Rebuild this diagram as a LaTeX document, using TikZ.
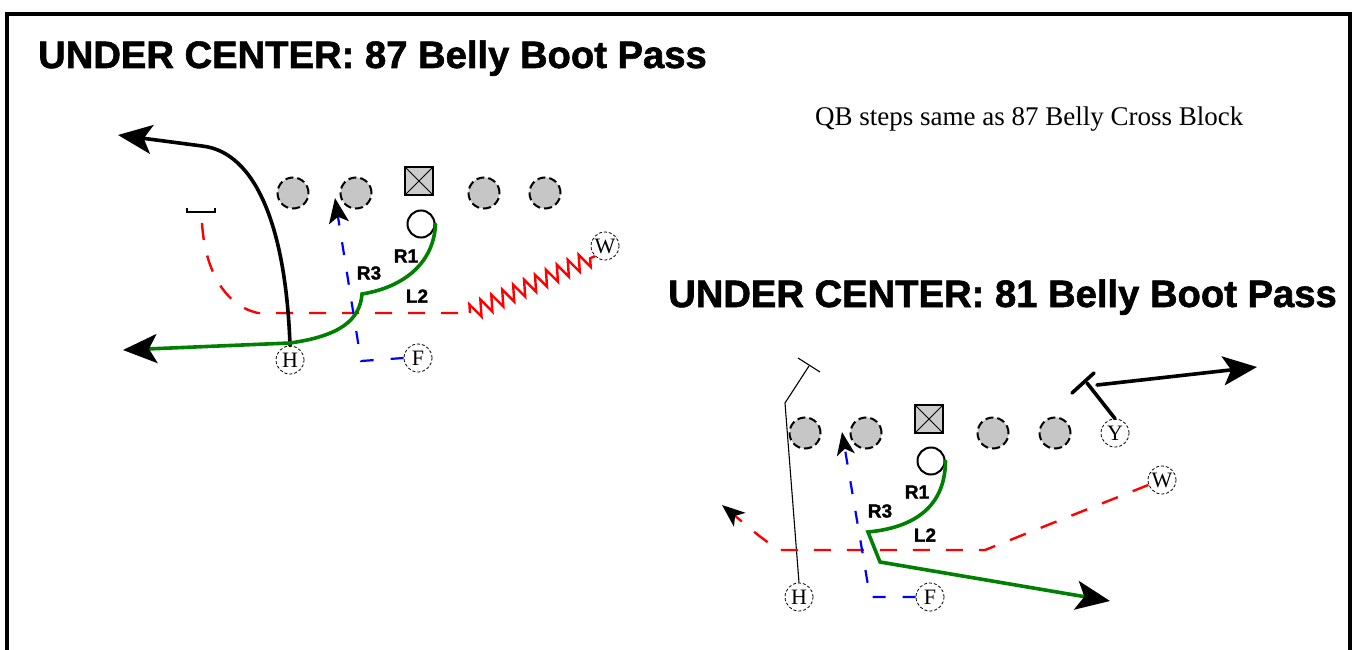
\documentclass[tikz,border=0pt]{standalone}
\usepackage{fontspec}
\setmainfont{Liberation Serif}
\newfontfamily\headfont{Liberation Sans}[BoldFeatures={FakeBold=1.5}]
\usepackage{tikz}
\usetikzlibrary{arrows.meta}
\usetikzlibrary{decorations.pathmorphing}

\begin{document}
\begin{tikzpicture}[
    x=1pt, y=-1pt,
    lineman/.style={circle, draw, fill=gray!45, line width=2pt, dash pattern=on 8pt off 4pt, minimum size=31pt, inner sep=0pt},
    snapbox/.style={rectangle, draw, fill=gray!40, line width=2.4pt, minimum size=28pt, inner sep=0pt,
      path picture={\draw[line width=0.8pt] (path picture bounding box.north west) -- (path picture bounding box.south east)
        (path picture bounding box.south west) -- (path picture bounding box.north east);}},
    qb/.style={circle, draw, fill=white, line width=2pt, minimum size=27pt, inner sep=0pt},
    player/.style={circle, draw, densely dashed, line width=0.8pt, minimum size=28pt, inner sep=0pt, font=\fontsize{22}{22}\selectfont},
    headline/.style={anchor=base west, inner sep=0pt, font=\headfont\bfseries\fontsize{38.2}{38.2}\selectfont},
    step label/.style={inner sep=0pt, font=\headfont\bfseries\fontsize{19}{19}\selectfont},
    bighead/.tip={Stealth[black, length=34pt, width=29pt, inset=8pt]},
    smallhead/.tip={Stealth[black, length=23pt, width=18pt, inset=6pt]},
    blackrun/.style={line width=3.6pt, line cap=round},
    greenrun/.style={line width=3.6pt, draw=green!50!black, line cap=round},
    redrun/.style={line width=2.4pt, draw=red, dash pattern=on 17pt off 16pt},
    redzig/.style={line width=2.4pt, draw=red, decorate, decoration={zigzag, segment length=12pt, amplitude=8pt}},
    bluerun/.style={line width=2.2pt, draw=blue, dash pattern=on 13pt off 17pt},
  ]
  \useasboundingbox (0,0) rectangle (1354,650);

  % frame
  \draw[line width=4pt] (7,660) -- (7,14) -- (1350,14) -- (1350,660);

  % headlines
  \node[headline] (head1) at (38,68)  {UNDER CENTER: 87 Belly Boot Pass};
  \node[headline] (head2) at (668,307) {UNDER CENTER: 81 Belly Boot Pass};
  \node[anchor=base west, inner sep=0pt, font=\fontsize{27}{27}\selectfont] (note) at (815,126) {QB steps same as 87 Belly Cross Block};

  % ---- 87 Belly Boot Pass ----
  \node[lineman] (lt1) at (293,193) {};
  \node[lineman] (lg1) at (356,193) {};
  \node[snapbox] (c1)  at (419,181) {};
  \node[lineman] (rg1) at (484,193) {};
  \node[lineman] (rt1) at (545,193) {};
  \node[qb]      (qb1) at (421,224) {};
  \node[player]  (h1)  at (290,360) {H};
  \node[player]  (f1)  at (418,358) {F};
  \node[player]  (w1)  at (605,246) {W};

  \coordinate (bk1) at (118,135);
  \coordinate (gr1) at (123,350);
  \coordinate (bl1) at (335,198);
  \coordinate (rd1) at (202,223);
  \coordinate (zz1) at (470,313);

  \draw[line width=2pt] (187,208) -- (187,212) -- (215,212) -- (215,208);
  \draw[redrun] (rd1) .. controls (205,272) and (226,306) .. (258,313) -- (zz1);
  \draw[redzig] (zz1) -- (w1.south west);
  \draw[bluerun, -{Stealth[black, length=25pt, width=20pt, inset=6pt]}] (f1.west) -- (361,361) -- (bl1);
  \draw[blackrun, -{bighead}] (h1.north) .. controls (286,228) and (256,152) .. (202,146) -- (bk1);
  \draw[greenrun, -{bighead}] (qb1.east) .. controls (434,262) and (405,287) .. (362,294)
    .. controls (360,320) and (340,336) .. (290,343) -- (gr1);

  \node[step label] (r1a) at (406,256) {R1};
  \node[step label] (r3a) at (369,273) {R3};
  \node[step label] (l2a) at (417,296) {L2};

  % ---- 81 Belly Boot Pass ----
  \node[lineman] (lt2) at (805,433) {};
  \node[lineman] (lg2) at (866,433) {};
  \node[snapbox] (c2)  at (929,419) {};
  \node[lineman] (rg2) at (993,433) {};
  \node[lineman] (rt2) at (1055,433) {};
  \node[qb]      (qb2) at (931,461) {};
  \node[player]  (y2)  at (1115,433) {Y};
  \node[player]  (w2)  at (1162,480) {W};
  \node[player]  (h2)  at (799,597) {H};
  \node[player]  (f2)  at (930,597) {F};

  \coordinate (ar2) at (722,505);
  \coordinate (bl2) at (842,432);
  \coordinate (gr2) at (1110,601);
  \coordinate (bk2) at (1257,367);

  \draw[line width=1.1pt] (h2.north) -- (785,403) -- (809,366);
  \draw[line width=1.1pt] (798,358) -- (820,372);
  \draw[redrun, -{smallhead}] (w2.200) -- (985,550) -- (778,550) -- (758,535) -- (ar2);
  \draw[bluerun, -{smallhead}] (f2.west) -- (870,597) -- (bl2);
  \draw[greenrun, -{bighead}] (qb2.east) .. controls (945,510) and (910,528) .. (868,532) -- (880,562) -- (gr2);
  \draw[blackrun] (y2.north) -- (1087,383);
  \draw[blackrun] (1072,393) -- (1094,373);
  \draw[blackrun, -{bighead}] (1097,385) -- (bk2);

  \node[step label] (r1b) at (917,492) {R1};
  \node[step label] (r3b) at (880,511) {R3};
  \node[step label] (l2b) at (925,535) {L2};

\end{tikzpicture}
\end{document}
